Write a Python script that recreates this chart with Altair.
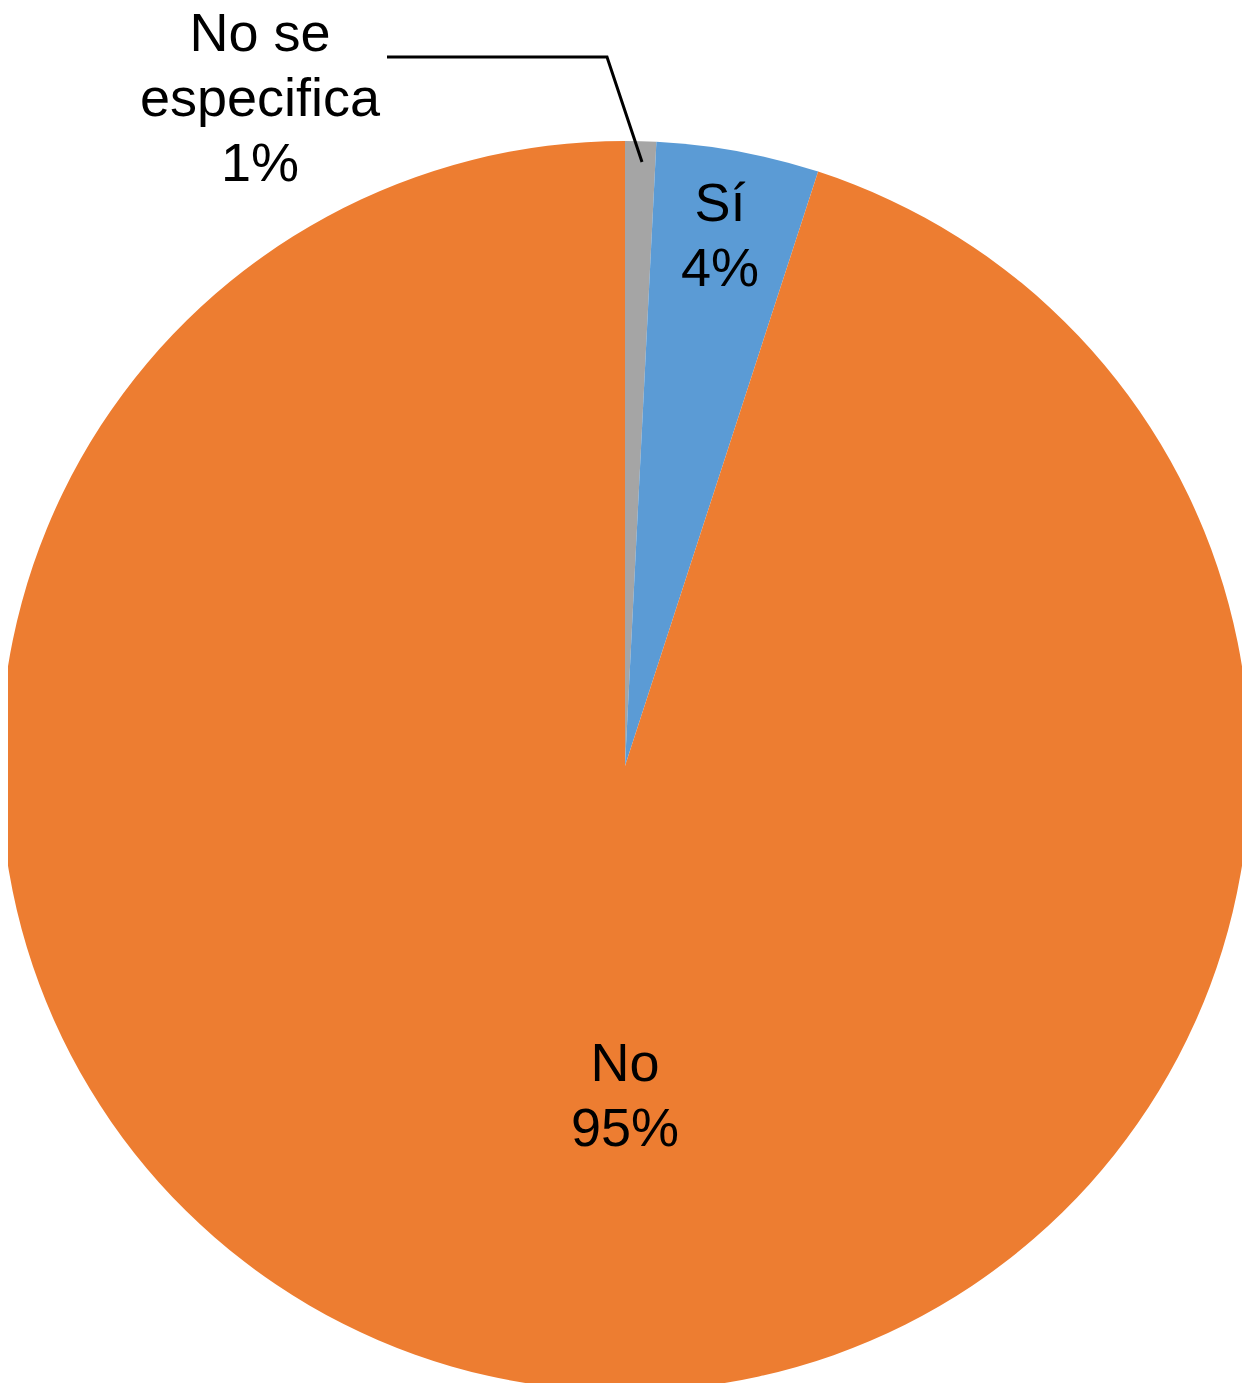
import altair as alt
import pandas as pd

# Slice data (clockwise from 12 o'clock)
categories = ["No se especifica", "Sí", "No"]
values = [0.8, 4.2, 95.0]
colors = ["#A5A5A5", "#5B9BD5", "#ED7D31"]
label_text = ["No se\nespecifica\n1%", "Sí\n4%", "No\n95%"]
order = [0, 1, 2]

# Label anchor positions (px, svg coordinates) and leader line
label_x = [252, 712, 617]
label_y = [43, 213, 1073]
leader_x = [379, 599, 634]
leader_y = [49, 49, 154]

CX, CY, R = 617, 758, 625

pie_df = pd.DataFrame({"cat": categories, "val": values, "ord": order})
lab_df = pd.DataFrame({"t": label_text, "x": label_x, "y": label_y})
lead_df = pd.DataFrame({"x": leader_x, "y": leader_y, "i": [0, 1, 2]})

pie = alt.Chart(pie_df).mark_arc(outerRadius=R).encode(
    theta=alt.Theta("val:Q", stack=True),
    order=alt.Order("ord:Q"),
    color=alt.Color("cat:N", scale=alt.Scale(domain=categories, range=colors), legend=None),
    x=alt.value(CX),
    y=alt.value(CY),
)

labels = alt.Chart(lab_df).mark_text(
    font="Liberation Sans", fontSize=54, color="black", align="center",
    baseline="alphabetic", lineBreak="\n", lineHeight=65,
).encode(
    x=alt.X("x:Q", scale=None),
    y=alt.Y("y:Q", scale=None),
    text="t:N",
)

leader = alt.Chart(lead_df).mark_line(color="black", strokeWidth=3).encode(
    x=alt.X("x:Q", scale=None),
    y=alt.Y("y:Q", scale=None),
    order="i:Q",
)

chart = alt.layer(pie, leader, labels).properties(
    width=1234, height=1375,
    autosize=alt.AutoSizeParams(type="none"),
    padding=0,
).configure_view(stroke=None)

chart.save("out.html", embed_options={"renderer": "svg", "actions": False})
